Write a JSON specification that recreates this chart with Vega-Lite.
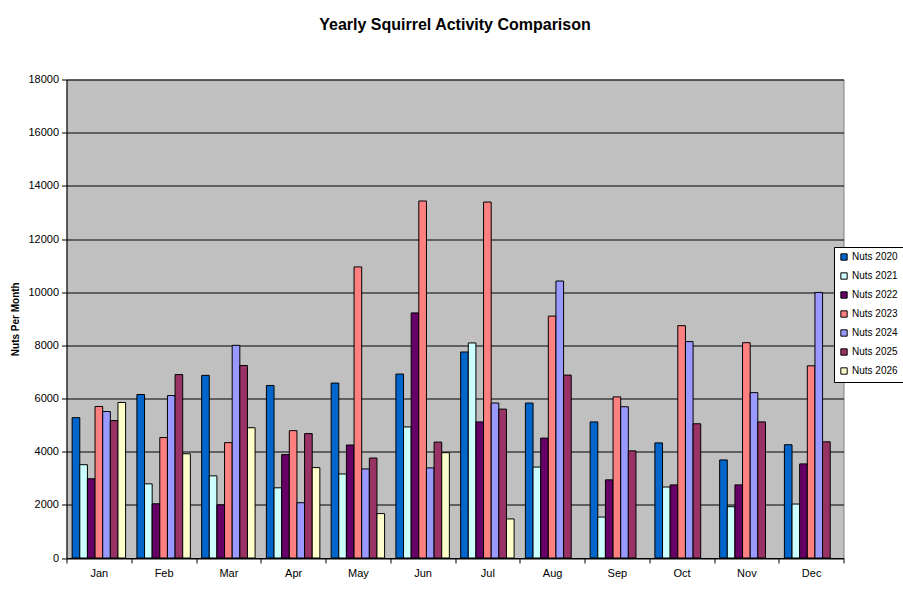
{
  "$schema": "https://vega.github.io/schema/vega-lite/v6.json",
  "autosize": {"type": "none"},
  "padding": {"left": 66.5, "top": 79.5, "right": 59.5, "bottom": 57},
  "width": 777,
  "height": 478.5,
  "background": "white",
  "title": {
    "text": "Yearly Squirrel Activity Comparison",
    "font": "Liberation Sans",
    "fontSize": 16,
    "fontWeight": "bold",
    "color": "black",
    "anchor": "middle",
    "offset": 41
  },
  "config": {
    "view": {"fill": "#c0c0c0", "stroke": "#808080", "strokeWidth": 1},
    "font": "Liberation Sans"
  },
  "data": {
    "values": [
      {"month": "Jan", "series": "Nuts 2020", "nuts": 5280},
      {"month": "Jan", "series": "Nuts 2021", "nuts": 3510},
      {"month": "Jan", "series": "Nuts 2022", "nuts": 2980},
      {"month": "Jan", "series": "Nuts 2023", "nuts": 5700},
      {"month": "Jan", "series": "Nuts 2024", "nuts": 5510},
      {"month": "Jan", "series": "Nuts 2025", "nuts": 5170},
      {"month": "Jan", "series": "Nuts 2026", "nuts": 5850},
      {"month": "Feb", "series": "Nuts 2020", "nuts": 6150},
      {"month": "Feb", "series": "Nuts 2021", "nuts": 2790},
      {"month": "Feb", "series": "Nuts 2022", "nuts": 2040},
      {"month": "Feb", "series": "Nuts 2023", "nuts": 4530},
      {"month": "Feb", "series": "Nuts 2024", "nuts": 6110},
      {"month": "Feb", "series": "Nuts 2025", "nuts": 6900},
      {"month": "Feb", "series": "Nuts 2026", "nuts": 3920},
      {"month": "Mar", "series": "Nuts 2020", "nuts": 6870},
      {"month": "Mar", "series": "Nuts 2021", "nuts": 3090},
      {"month": "Mar", "series": "Nuts 2022", "nuts": 2000},
      {"month": "Mar", "series": "Nuts 2023", "nuts": 4340},
      {"month": "Mar", "series": "Nuts 2024", "nuts": 8000},
      {"month": "Mar", "series": "Nuts 2025", "nuts": 7240},
      {"month": "Mar", "series": "Nuts 2026", "nuts": 4900},
      {"month": "Apr", "series": "Nuts 2020", "nuts": 6490},
      {"month": "Apr", "series": "Nuts 2021", "nuts": 2640},
      {"month": "Apr", "series": "Nuts 2022", "nuts": 3890},
      {"month": "Apr", "series": "Nuts 2023", "nuts": 4790},
      {"month": "Apr", "series": "Nuts 2024", "nuts": 2080},
      {"month": "Apr", "series": "Nuts 2025", "nuts": 4680},
      {"month": "Apr", "series": "Nuts 2026", "nuts": 3400},
      {"month": "May", "series": "Nuts 2020", "nuts": 6580},
      {"month": "May", "series": "Nuts 2021", "nuts": 3160},
      {"month": "May", "series": "Nuts 2022", "nuts": 4250},
      {"month": "May", "series": "Nuts 2023", "nuts": 10950},
      {"month": "May", "series": "Nuts 2024", "nuts": 3350},
      {"month": "May", "series": "Nuts 2025", "nuts": 3760},
      {"month": "May", "series": "Nuts 2026", "nuts": 1670},
      {"month": "Jun", "series": "Nuts 2020", "nuts": 6920},
      {"month": "Jun", "series": "Nuts 2021", "nuts": 4930},
      {"month": "Jun", "series": "Nuts 2022", "nuts": 9220},
      {"month": "Jun", "series": "Nuts 2023", "nuts": 13430},
      {"month": "Jun", "series": "Nuts 2024", "nuts": 3390},
      {"month": "Jun", "series": "Nuts 2025", "nuts": 4360},
      {"month": "Jun", "series": "Nuts 2026", "nuts": 3960},
      {"month": "Jul", "series": "Nuts 2020", "nuts": 7750},
      {"month": "Jul", "series": "Nuts 2021", "nuts": 8090},
      {"month": "Jul", "series": "Nuts 2022", "nuts": 5120},
      {"month": "Jul", "series": "Nuts 2023", "nuts": 13390},
      {"month": "Jul", "series": "Nuts 2024", "nuts": 5830},
      {"month": "Jul", "series": "Nuts 2025", "nuts": 5600},
      {"month": "Jul", "series": "Nuts 2026", "nuts": 1470},
      {"month": "Aug", "series": "Nuts 2020", "nuts": 5830},
      {"month": "Aug", "series": "Nuts 2021", "nuts": 3420},
      {"month": "Aug", "series": "Nuts 2022", "nuts": 4510},
      {"month": "Aug", "series": "Nuts 2023", "nuts": 9100},
      {"month": "Aug", "series": "Nuts 2024", "nuts": 10420},
      {"month": "Aug", "series": "Nuts 2025", "nuts": 6880},
      {"month": "Sep", "series": "Nuts 2020", "nuts": 5120},
      {"month": "Sep", "series": "Nuts 2021", "nuts": 1540},
      {"month": "Sep", "series": "Nuts 2022", "nuts": 2940},
      {"month": "Sep", "series": "Nuts 2023", "nuts": 6060},
      {"month": "Sep", "series": "Nuts 2024", "nuts": 5690},
      {"month": "Sep", "series": "Nuts 2025", "nuts": 4030},
      {"month": "Oct", "series": "Nuts 2020", "nuts": 4330},
      {"month": "Oct", "series": "Nuts 2021", "nuts": 2670},
      {"month": "Oct", "series": "Nuts 2022", "nuts": 2750},
      {"month": "Oct", "series": "Nuts 2023", "nuts": 8740},
      {"month": "Oct", "series": "Nuts 2024", "nuts": 8140},
      {"month": "Oct", "series": "Nuts 2025", "nuts": 5050},
      {"month": "Nov", "series": "Nuts 2020", "nuts": 3690},
      {"month": "Nov", "series": "Nuts 2021", "nuts": 1930},
      {"month": "Nov", "series": "Nuts 2022", "nuts": 2750},
      {"month": "Nov", "series": "Nuts 2023", "nuts": 8100},
      {"month": "Nov", "series": "Nuts 2024", "nuts": 6220},
      {"month": "Nov", "series": "Nuts 2025", "nuts": 5120},
      {"month": "Dec", "series": "Nuts 2020", "nuts": 4260},
      {"month": "Dec", "series": "Nuts 2021", "nuts": 2030},
      {"month": "Dec", "series": "Nuts 2022", "nuts": 3540},
      {"month": "Dec", "series": "Nuts 2023", "nuts": 7230},
      {"month": "Dec", "series": "Nuts 2024", "nuts": 9990},
      {"month": "Dec", "series": "Nuts 2025", "nuts": 4370}
    ]
  },
  "mark": {"type": "bar", "stroke": "black", "strokeWidth": 1},
  "encoding": {
    "x": {
      "field": "month",
      "type": "nominal",
      "sort": ["Jan", "Feb", "Mar", "Apr", "May", "Jun", "Jul", "Aug", "Sep", "Oct", "Nov", "Dec"],
      "scale": {"paddingInner": 0, "paddingOuter": 0},
      "axis": {
        "title": null,
        "labelAngle": 0,
        "labelFont": "Liberation Sans",
        "labelFontSize": 11,
        "labelColor": "black",
        "labelPadding": 4,
        "tickBand": "extent",
        "tickColor": "black",
        "tickSize": 5,
        "domainColor": "black",
        "grid": false
      }
    },
    "xOffset": {
      "field": "series",
      "type": "nominal",
      "scale": {
        "domain": ["Nuts 2020", "Nuts 2021", "Nuts 2022", "Nuts 2023", "Nuts 2024", "Nuts 2025", "Nuts 2026"],
        "paddingInner": 0,
        "paddingOuter": 0.74
      }
    },
    "y": {
      "field": "nuts",
      "type": "quantitative",
      "scale": {"domain": [0, 18000], "nice": false},
      "axis": {
        "title": "Nuts Per Month",
        "titleFont": "Liberation Sans",
        "titleFontSize": 10,
        "titleFontWeight": "bold",
        "titleColor": "black",
        "titlePadding": 7,
        "values": [0, 2000, 4000, 6000, 8000, 10000, 12000, 14000, 16000, 18000],
        "format": "d",
        "labelFont": "Liberation Sans",
        "labelFontSize": 11,
        "labelColor": "black",
        "labelPadding": 3,
        "tickColor": "black",
        "tickSize": 5,
        "domainColor": "black",
        "grid": true,
        "gridColor": "black",
        "gridOpacity": 1,
        "gridWidth": 1
      }
    },
    "color": {
      "field": "series",
      "type": "nominal",
      "scale": {
        "domain": ["Nuts 2020", "Nuts 2021", "Nuts 2022", "Nuts 2023", "Nuts 2024", "Nuts 2025", "Nuts 2026"],
        "range": ["#0066CC", "#CCFFFF", "#660066", "#FF8080", "#9999FF", "#993366", "#FFFFCC"]
      },
      "legend": {
        "title": null,
        "orient": "none",
        "legendX": 767.5,
        "legendY": 167.5,
        "fillColor": "white",
        "strokeColor": "black",
        "padding": 5,
        "symbolType": "square",
        "symbolSize": 40,
        "symbolStrokeColor": "black",
        "symbolStrokeWidth": 1,
        "symbolOpacity": 1,
        "labelFont": "Liberation Sans",
        "labelFontSize": 10,
        "labelColor": "black",
        "labelOffset": 3,
        "rowPadding": 7
      }
    }
  }
}
